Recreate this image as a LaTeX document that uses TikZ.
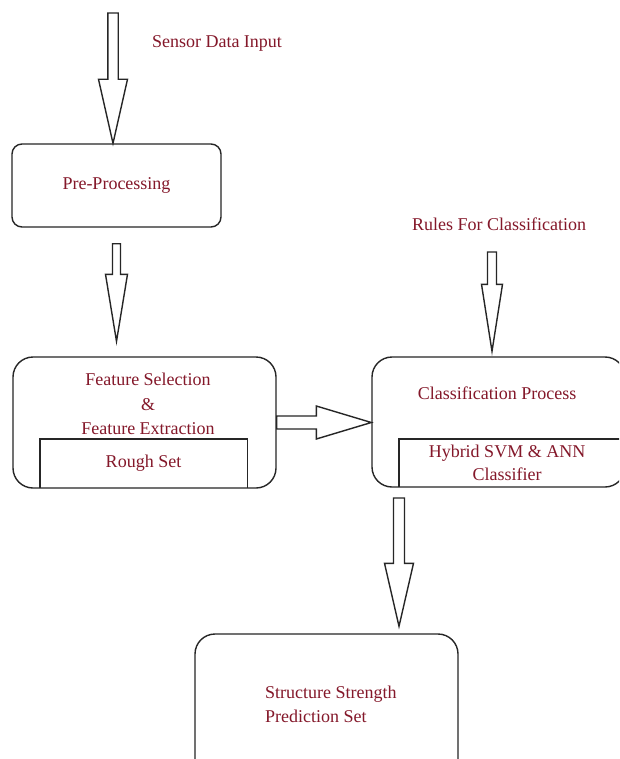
\documentclass[tikz,border=0pt]{standalone}
\usepackage{fontspec}
\setmainfont{Liberation Serif}
\usetikzlibrary{positioning,calc}
\definecolor{fdLine}{HTML}{262626}
\definecolor{fdText}{HTML}{84182A}
\newcommand{\vblock}[5]{%
  \draw[blockarr] let \p1=(#1), \p2=(#2) in
    (\x1-#3pt,\y1) -- (\x1+#3pt,\y1) -- (\x1+#3pt,\y2+#5pt) -- (\x1+#4pt,\y2+#5pt)
    -- (\x1,\y2) -- (\x1-#4pt,\y2+#5pt) -- (\x1-#3pt,\y2+#5pt) -- cycle;}
\newcommand{\hblock}[5]{%
  \draw[blockarr] let \p1=(#1), \p2=(#2) in
    (\x1,\y1+#3pt) -- (\x2-#5pt,\y1+#3pt) -- (\x2-#5pt,\y1+#4pt) -- (\x2,\y1)
    -- (\x2-#5pt,\y1-#4pt) -- (\x2-#5pt,\y1-#3pt) -- (\x1,\y1-#3pt) -- cycle;}

\begin{document}
\begin{tikzpicture}[x=1pt, y=-1pt, font=\fontsize{18}{24.5}\selectfont,
  box/.style={draw=fdLine, line width=1.4pt, rounded corners=#1, inner sep=0pt},
  box/.default=20pt,
  inner/.style={draw=fdLine, line width=1.4pt},
  lbl/.style={text=fdText, align=center, inner sep=0pt},
  blockarr/.style={draw=fdLine, line width=1.4pt, fill=white}]
  \useasboundingbox (0,0) rectangle (619,759);
  \clip (0,0) rectangle (619,759);
  \fill[white] (0,0) rectangle (619,759);

  \node[lbl] (sensor) at (217,43) {Sensor Data Input};
  \node[lbl] (rules) at (499,224) {Rules For Classification};

  \node[box=10pt, lbl, minimum width=209pt, minimum height=83pt] (pre) at (116.5,185.5) {Pre-Processing};

  \node[box, minimum width=263pt, minimum height=131pt] (feat) at (144.5,422.5) {};
  \node[lbl] (feattext) at (148,404) {Feature Selection\\ \&\\ Feature Extraction};
  \node[lbl, minimum width=207pt, minimum height=49pt] (rough) at (143.5,463.5) {Rough Set};
  \draw[inner] (rough.south west) |- (rough.north east) -- (rough.south east);

  \node[box, minimum width=253pt, minimum height=130pt] (cls) at (498.5,422) {};
  \node[lbl] (clstext) at (497,393) {Classification Process};
  \node[minimum width=241pt, minimum height=48pt, inner sep=0pt] (hyb) at (519.5,463) {};
  \draw[inner] (hyb.south west) |- (hyb.north east) -- (hyb.south east);
  \node[lbl, font=\fontsize{18}{23}\selectfont] (hybtext) at (507,463) {Hybrid SVM \& ANN\\ Classifier};

  \node[box, minimum width=263pt, minimum height=156pt] (pred) at (326.5,712) {};
  \node[lbl, align=left, anchor=west] (predtext) at (265,704.5) {Structure Strength\\Prediction Set};

  \coordinate (inTop) at (113,13);
  \coordinate (rulesIn) at (492,252);
  \coordinate (outTop) at (399,498);
  \vblock{inTop}{pre.north}{5.2}{14.5}{64}
  \vblock{[yshift=-16pt]pre.south}{[yshift=15pt]feat.north}{4}{11}{67}
  \hblock{feat.east}{cls.west}{6.5}{16.5}{55}
  \vblock{rulesIn}{[yshift=5pt]cls.north}{4.5}{10.5}{67}
  \vblock{outTop}{[yshift=7pt]pred.north}{5.5}{14.5}{63}
\end{tikzpicture}
\end{document}
